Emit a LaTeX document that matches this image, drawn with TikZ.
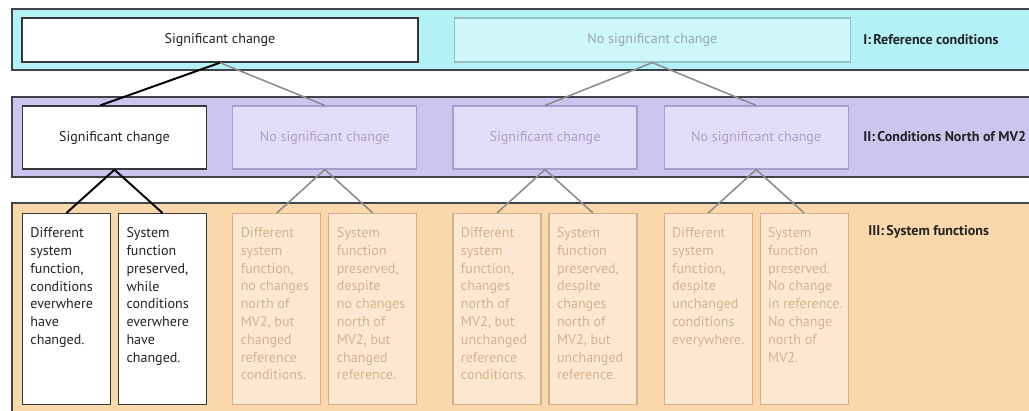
\documentclass[tikz,border=0pt]{standalone}
\usepackage{fontspec}
\setmainfont{PT Sans}
\usepackage{tikz}
\usetikzlibrary{positioning,calc}
\definecolor{banddark}{RGB}{62,68,72}
\definecolor{boxdark}{RGB}{55,55,55}
\definecolor{inkdark}{RGB}{35,35,35}
\definecolor{fadeline}{RGB}{140,140,140}
\definecolor{cyanband}{RGB}{178,242,247}
\definecolor{cyanpale}{RGB}{206,247,250}
\definecolor{cyanedge}{RGB}{150,192,196}
\definecolor{cyanink}{RGB}{150,168,170}
\definecolor{lilacband}{RGB}{206,196,240}
\definecolor{lilacpale}{RGB}{227,220,246}
\definecolor{lilacedge}{RGB}{168,158,204}
\definecolor{lilacink}{RGB}{172,162,202}
\definecolor{peachband}{RGB}{250,216,172}
\definecolor{peachpale}{RGB}{252,232,208}
\definecolor{peachedge}{RGB}{212,176,140}
\definecolor{peachink}{RGB}{212,178,144}
\newcommand{\systext}[1]{\parbox[t][4.075cm][t]{1.8cm}{\raggedright #1}}

\begin{document}
\begin{tikzpicture}[
      x=0.025cm, y=-0.025cm,
      font=\fontsize{10}{12.66}\selectfont,
      band/.style={draw=banddark, line width=1.1pt},
      keybox/.style={draw=boxdark, fill=white, line width=1pt, text=inkdark},
      refbox/.style={minimum width=9.9cm, minimum height=1.1cm, inner sep=0pt},
      condbox/.style={minimum width=4.6cm, minimum height=1.575cm, inner sep=0pt},
      sysbox/.style={anchor=north, inner xsep=0.2cm, inner ysep=0.35cm, text=inkdark},
      fadecyan/.style={draw=cyanedge, fill=cyanpale, line width=0.8pt, text=cyanink},
      fadelilac/.style={draw=lilacedge, fill=lilacpale, line width=0.8pt, text=lilacink},
      fadepeach/.style={draw=peachedge, fill=peachpale, line width=0.8pt, text=peachink},
      levellabel/.style={anchor=west, inner sep=0pt, font=\fontsize{10}{12}\selectfont\bfseries, text=inkdark},
      keyline/.style={draw=black, line width=1.4pt},
      fadeedge/.style={draw=fadeline, line width=1.1pt}
    ]
      \useasboundingbox (0,0) rectangle (1029,411);
      \clip (0,0) rectangle (1029,411);
      \fill[white] (0,0) rectangle (1029,411);

      % levels
      \filldraw[band, fill=cyanband] (12,9) rectangle (1045,70);
      \filldraw[band, fill=lilacband] (12,97) rectangle (1045,177);
      \filldraw[band, fill=peachband] (12,203) rectangle (1045,430);

      % I: reference conditions
      \node[refbox, keybox] (ref1) at (220,40) {Significant change};
      \node[refbox, fadecyan, right=0.875cm of ref1] (ref2) {No significant change};
      \node[levellabel] (lvlI) at (863,40) {I:\,Reference conditions};

      % II: conditions north of MV2
      \node[condbox, keybox] (cond1) at (114.5,137.5) {Significant change};
      \node[condbox, fadelilac, right=0.625cm of cond1] (cond2) {No significant change};
      \node[condbox, fadelilac, right=0.875cm of cond2] (cond3) {Significant change};
      \node[condbox, fadelilac, right=0.65cm of cond3] (cond4) {No significant change};
      \node[levellabel] (lvlII) at (863,137) {II:\,Conditions North of MV2};

      % III: system functions
      \node[sysbox, keybox, anchor=north west] (sys1) at (cond1.west |- 0,213)
        {\systext{Different\\system\\function,\\conditions\\everwhere\\have\\changed.}};
      \node[sysbox, keybox, anchor=north east] (sys2) at (cond1.east |- 0,213)
        {\systext{System\\function\\preserved,\\while\\conditions\\everwhere\\have\\changed.}};
      \node[sysbox, fadepeach, anchor=north west] (sys3) at (cond2.west |- 0,213)
        {\systext{Different\\system\\function,\\no changes\\north of\\MV2, but\\changed\\reference\\conditions.}};
      \node[sysbox, fadepeach, anchor=north east] (sys4) at (cond2.east |- 0,213)
        {\systext{System\\function\\preserved,\\despite\\no changes\\north of\\MV2, but\\changed\\reference.}};
      \node[sysbox, fadepeach, anchor=north west] (sys5) at (cond3.west |- 0,213)
        {\systext{Different\\system\\function,\\changes\\north of\\MV2, but\\unchanged\\reference\\conditions.}};
      \node[sysbox, fadepeach, anchor=north east] (sys6) at (cond3.east |- 0,213)
        {\systext{System\\function\\preserved,\\despite\\changes\\north of\\MV2, but\\unchanged\\reference.}};
      \node[sysbox, fadepeach, anchor=north west] (sys7) at (cond4.west |- 0,213)
        {\systext{Different\\system\\function,\\despite\\unchanged\\conditions\\everywhere.}};
      \node[sysbox, fadepeach, anchor=north east] (sys8) at (cond4.east |- 0,213)
        {\systext{System\\function\\preserved.\\No change\\\mbox{in reference.}\\No change\\north of\\MV2.}};
      \node[levellabel] (lvlIII) at (868,232) {III:\,System functions};

      % branches
      \draw[fadeedge] (ref1.south) -- (cond2.north);
      \draw[fadeedge] (ref2.south) -- (cond3.north);
      \draw[fadeedge] (ref2.south) -- (cond4.north);
      \draw[fadeedge] (cond2.south) -- (sys3.north);
      \draw[fadeedge] (cond2.south) -- (sys4.north);
      \draw[fadeedge] (cond3.south) -- (sys5.north);
      \draw[fadeedge] (cond3.south) -- (sys6.north);
      \draw[fadeedge] (cond4.south) -- (sys7.north);
      \draw[fadeedge] (cond4.south) -- (sys8.north);
      \draw[keyline] (ref1.south) -- ($(cond1.north)+(-14,0)$);
      \draw[keyline] (cond1.south) -- (sys1.north);
      \draw[keyline] (cond1.south) -- (sys2.north);
    \end{tikzpicture}
\end{document}
